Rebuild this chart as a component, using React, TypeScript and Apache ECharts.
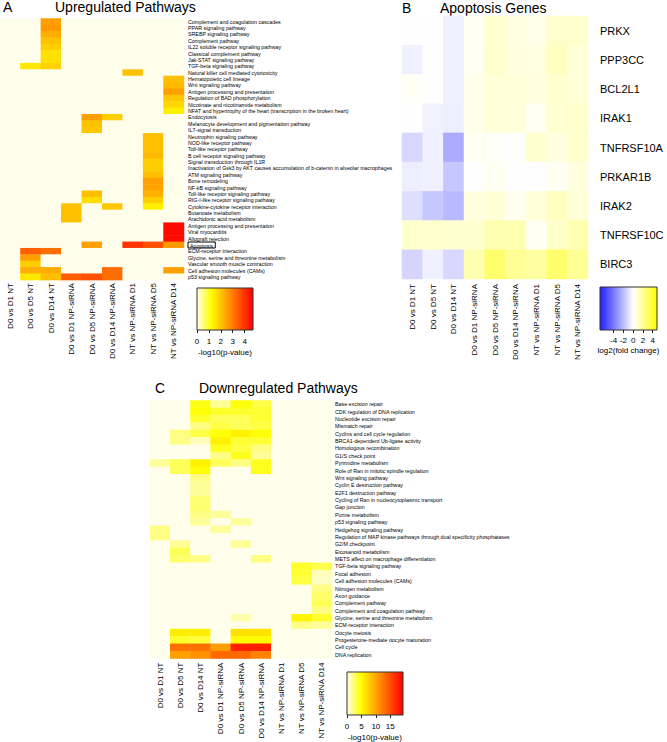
import React, { useEffect, useRef } from "react";
import * as echarts from "echarts";

const FONT = "Liberation Sans, Arial, Helvetica, sans-serif";

const comparisons = [
  "D0 vs D1 NT", "D0 vs D5 NT", "D0 vs D14 NT",
  "D0 vs D1 NP-siRNA", "D0 vs D5 NP-siRNA", "D0 vs D14 NP-siRNA",
  "NT vs NP-siRNA D1", "NT vs NP-siRNA D5", "NT vs NP-siRNA D14",
];

const upPathways = [
  "Complement and coagulation cascades",
  "PPAR signaling pathway",
  "SREBP signaling pathway",
  "Complement pathway",
  "IL22 soluble receptor signaling pathway",
  "Classical complement pathway",
  "Jak-STAT signaling pathway",
  "TGF-beta signaling pathway",
  "Natural killer cell mediated cytotoxicity",
  "Hematopoietic cell lineage",
  "Wnt signaling pathway",
  "Antigen processing and presentation",
  "Regulation of BAD phosphorylation",
  "Nicotinate and nicotinamide metabolism",
  "NFAT and hypertrophy of the heart (transcription in the broken heart)",
  "Endocytosis",
  "Melanocyte development and pigmentation pathway",
  "IL7-signal transduction",
  "Neutrophin signaling pathway",
  "NOD-like receptor pathway",
  "Toll-like receptor pathway",
  "B cell receptor signaling pathway",
  "Signal transduction through IL1R",
  "Inactivation of Gsk3 by AKT causes accumulation of b-catenin in alveolar macrophages",
  "ATM signaling pathway",
  "Bone remodeling",
  "NF-kB signaling pathway",
  "Toll-like receptor signaling pathway",
  "RIG-I-like receptor signaling pathway",
  "Cytokine-cytokine receptor interaction",
  "Butanoate metabolism",
  "Arachidonic acid metabolism",
  "Antigen processing and presentation",
  "Viral myocarditis",
  "Allograft rejection",
  "Apoptosis",
  "ECM-receptor interaction",
  "Glycine, serine and threonine metabolism",
  "Vascular smooth muscle contraction",
  "Cell adhesion molecules (CAMs)",
  "p53 signaling pathway",
];

// -log10(p-value), rows follow upPathways, columns follow comparisons
const upValues: number[][] = [
  [0, 0, 2.5, 0, 0, 0, 0, 0, 0],
  [0, 0, 2.6, 0, 0, 0, 0, 0, 0],
  [0, 0, 2.3, 0, 0, 0, 0, 0, 0],
  [0, 0, 2.05, 0, 0, 0, 0, 0, 0],
  [0, 0, 1.85, 0, 0, 0, 0, 0, 0],
  [0, 0, 1.6, 0, 0, 0, 0, 0, 0],
  [0, 0, 1.6, 0, 0, 0, 0, 0, 0],
  [0, 1.5, 1.8, 0, 0, 0, 0, 0, 0],
  [0, 0, 0, 0, 0, 0, 2.05, 0, 0],
  [0, 0, 0, 0, 0, 0, 0, 0, 2.05],
  [0, 0, 0, 0, 0, 0, 0, 0, 2.15],
  [0, 0, 0, 0, 0, 0, 0, 0, 2.5],
  [0, 0, 0, 0, 0, 0, 0, 0, 1.95],
  [0, 0, 0, 0, 0, 0, 0, 0, 1.75],
  [0, 0, 0, 0, 0, 0, 0, 0, 1.4],
  [0, 0, 0, 0, 2.5, 1.85, 0, 0, 0],
  [0, 0, 0, 0, 2.05, 0, 0, 0, 0],
  [0, 0, 0, 0, 1.95, 0, 0, 0, 0],
  [0, 0, 0, 0, 0, 0, 0, 2.05, 0],
  [0, 0, 0, 0, 0, 0, 0, 2.05, 0],
  [0, 0, 0, 0, 0, 0, 0, 2.05, 0],
  [0, 0, 0, 0, 0, 0, 0, 2.15, 0],
  [0, 0, 0, 0, 0, 0, 0, 1.85, 0],
  [0, 0, 0, 0, 0, 0, 0, 1.85, 0],
  [0, 0, 0, 0, 0, 0, 0, 2.05, 0],
  [0, 0, 0, 0, 0, 0, 0, 2.5, 0],
  [0, 0, 0, 0, 0, 0, 0, 2.45, 0],
  [0, 0, 0, 0, 2.07, 0, 0, 2.25, 0],
  [0, 0, 0, 0, 1.65, 0, 0, 1.85, 0],
  [0, 0, 0, 2.05, 0, 1.95, 0, 1.4, 0],
  [0, 0, 0, 2.05, 0, 0, 0, 0, 0],
  [0, 0, 0, 2.05, 0, 0, 0, 0, 0],
  [0, 0, 0, 0, 0, 0, 0, 0, 4.6],
  [0, 0, 0, 0, 0, 0, 0, 0, 4.6],
  [0, 0, 0, 0, 0, 0, 0, 0, 4.6],
  [0, 0, 0, 0, 2.5, 0, 4.0, 3.6, 2.6],
  [0, 3.4, 3.2, 0, 0, 0, 0, 0, 0],
  [0, 2.5, 0, 0, 0, 0, 0, 0, 0],
  [0, 1.85, 0, 0, 0, 0, 0, 0, 0],
  [0, 2.3, 2.3, 0, 0, 3.2, 0, 0, 2.5],
  [0, 1.5, 2.07, 3.4, 3.6, 3.2, 0, 0, 0],
];

const apoptosisGenes = [
  "PRKX", "PPP3CC", "BCL2L1", "IRAK1", "TNFRSF10A",
  "PRKAR1B", "IRAK2", "TNFRSF10C", "BIRC3",
];

// log2(fold change)
const apoptosisValues: number[][] = [
  [0, 0, -0.45, 0.25, 0.9, 0.55, 0.4, 1.0, 0.95],
  [-0.45, 0, -0.45, 0.25, 1.0, 0.6, 0.55, 1.2, 0.75],
  [0.2, 0, -0.45, 0.4, 0.75, 0.75, 0.6, 0.9, 0.75],
  [0, -0.4, -0.5, 0.4, 0.75, 0.75, 0.25, 0.9, 1.0],
  [-1.2, -0.45, -2.5, 0.25, 0.1, 0, 0.9, 0.6, 1.0],
  [-0.5, -0.45, -1.7, 0, 0.25, 0, 0, 0.25, 0.6],
  [-1.0, -1.7, -2.1, 0.6, 0.75, 0.3, 0.75, 1.2, 0.75],
  [1.0, 1.0, 0.9, 0.9, 1.5, 1.5, 0.25, 1.0, 1.5],
  [-1.3, -0.45, -1.2, 1.5, 2.8, 2.0, 1.8, 2.8, 2.0],
];

const downPathways = [
  "Base excision repair",
  "CDK regulation of DNA replication",
  "Nucleotide excision repair",
  "Mismatch repair",
  "Cyclins and cell cycle regulation",
  "BRCA1-dependent Ub-ligase activity",
  "Homologous recombination",
  "G1/S check point",
  "Pyrimidine metabolism",
  "Role of Ran in mitotic spindle regulation",
  "Wnt signaling pathway",
  "Cyclin E destruction pathway",
  "E2F1 destruction pathway",
  "Cycling of Ran in nucleocytoplasmic transport",
  "Gap junction",
  "Purine metabolism",
  "p53 signaling pathway",
  "Hedgehog signaling pathway",
  "Regulation of MAP kinase pathways through dual specificity phosphatases",
  "G2/M checkpoint",
  "Eicosanoid metabolism",
  "METS affect on macrophage differentiation",
  "TGF-beta signaling pathway",
  "Focal adhesion",
  "Cell adhesion molecules (CAMs)",
  "Nitrogen metabolism",
  "Axon guidance",
  "Complement pathway",
  "Complement and coagulation pathway",
  "Glycine, serine and threonine metabolism",
  "ECM-receptor interaction",
  "Oocyte meiosis",
  "Progesterone-mediate oocyte maturation",
  "Cell cycle",
  "DNA replication",
];

// -log10(p-value)
const downValues: number[][] = [
  [0, 0, 4.4, 1.7, 4.7, 3.4, 0, 0, 0],
  [0, 0, 4.7, 3.9, 3.9, 3.8, 0, 0, 0],
  [0, 0, 3.9, 3.0, 3.0, 3.8, 0, 0, 0],
  [0, 0, 2.1, 3.4, 3.0, 3.4, 0, 0, 0],
  [0, 2.1, 3.4, 4.7, 5.6, 4.7, 0, 0, 0],
  [0, 2.1, 1.0, 5.6, 3.8, 3.8, 0, 0, 0],
  [0, 0, 0, 4.2, 3.4, 2.1, 0, 0, 0],
  [0, 0, 0, 2.1, 4.2, 1.7, 0, 0, 0],
  [1.7, 3.0, 5.6, 3.0, 2.1, 4.2, 0, 0, 0],
  [0, 3.0, 4.7, 0, 0, 4.2, 0, 0, 0],
  [0, 0, 2.1, 0, 0, 0, 0, 0, 0],
  [0, 0, 1.7, 0, 0, 0, 0, 0, 0],
  [0, 0, 1.7, 0, 0, 0, 0, 0, 0],
  [0, 0, 2.5, 0, 0, 0, 0, 0, 0],
  [0, 0, 2.5, 0, 0, 0, 0, 0, 0],
  [0, 0, 2.1, 1.7, 0, 0, 0, 0, 0],
  [0, 0, 1.7, 0, 1.7, 0, 0, 0, 0],
  [2.1, 0, 0, 1.7, 0, 0, 0, 0, 0],
  [2.1, 0, 0, 0, 0, 0, 0, 0, 0],
  [0, 1.8, 0, 0, 1.7, 0, 0, 0, 0],
  [0, 3.0, 0, 0, 0, 0, 0, 0, 0],
  [0, 2.6, 2.1, 0, 0, 2.1, 0, 0, 0],
  [0, 0, 0, 0, 0, 0, 0, 3.9, 3.2],
  [0, 0, 0, 0, 0, 0, 0, 3.8, 1.0],
  [0, 0, 0, 0, 0, 0, 0, 3.4, 0.8],
  [0, 0, 0, 0, 0, 0, 0, 0, 2.1],
  [0, 0, 0, 0, 0, 0, 0, 0, 2.6],
  [0, 0, 0, 0, 0, 0, 0, 0, 3.0],
  [0, 0, 0, 0, 0, 0, 0, 0, 2.1],
  [0, 0, 0, 0, 1.3, 0, 0, 5.4, 3.9],
  [0, 0, 0, 0, 0, 0, 0, 2.1, 1.7],
  [0, 5.8, 5.8, 0, 6.5, 6.5, 0, 0, 0],
  [0, 4.0, 3.6, 0, 5.0, 5.0, 0, 0, 0],
  [0, 13.0, 13.0, 10.3, 17.6, 17.6, 0, 0, 0],
  [0, 10.3, 11.2, 13.4, 13.4, 12.0, 0, 0, 0],
];

const upTicks = [0, 1, 2, 3, 4];
const foldTicks = [-4, -2, 0, 2, 4];
const downTicks = [0, 5, 10, 15];

const UP_RANGE: [number, number] = [0, 4.7];
const FOLD_RANGE: [number, number] = [-6.8, 4.9];
const DOWN_RANGE: [number, number] = [0, 19.4];

const upAnchors: [number, string][] = [[0, "#fefeea"], [1.18, "#ffff00"], [4.7, "#ff0000"]];
const foldAnchors: [number, string][] = [[-6.8, "#1e1eff"], [0, "#ffffff"], [4.9, "#ffff00"]];
const downAnchors: [number, string][] = [[0, "#fefeea"], [4.85, "#ffff00"], [19.4, "#ff0000"]];

function parseHex(h: string) {
  const n = parseInt(h.slice(1), 16);
  return [(n >> 16) & 255, (n >> 8) & 255, n & 255];
}
function colorAt(anchors: [number, string][], v: number) {
  if (v <= anchors[0][0]) return anchors[0][1];
  for (let i = 1; i < anchors.length; i++) {
    const [v0, c0] = anchors[i - 1];
    const [v1, c1] = anchors[i];
    if (v <= v1) {
      const t = (v - v0) / (v1 - v0);
      const a = parseHex(c0);
      const b = parseHex(c1);
      return "rgb(" + a.map((x, k) => Math.round(x + (b[k] - x) * t)).join(",") + ")";
    }
  }
  return anchors[anchors.length - 1][1];
}
function ramp(range: [number, number], anchors: [number, string][], n = 120) {
  return Array.from({ length: n }, (_, i) => colorAt(anchors, range[0] + ((range[1] - range[0]) * i) / (n - 1)));
}
function gradient(range: [number, number], anchors: [number, string][]) {
  return new echarts.graphic.LinearGradient(
    0, 0, 1, 0,
    anchors.map(([v, c]) => ({ offset: (v - range[0]) / (range[1] - range[0]), color: c }))
  );
}
function toCells(m: number[][]) {
  const out: number[][] = [];
  m.forEach((row, y) => row.forEach((v, x) => out.push([x, y, v])));
  return out;
}

const hiddenAxisBits = {
  axisLine: { show: false },
  axisTick: { show: false },
  splitLine: { show: false },
};

function legendAxis(gridIndex: number, range: [number, number], ticks: number[], name: string, margin: number, gap: number) {
  return {
    type: "value",
    gridIndex,
    min: range[0],
    max: range[1],
    position: "bottom",
    axisLine: { show: false },
    splitLine: { show: false },
    axisTick: { show: true, length: 3, customValues: ticks, lineStyle: { color: "#222", width: 1 } },
    axisLabel: { customValues: ticks, fontSize: 8, margin, color: "#000", fontFamily: FONT },
    name,
    nameLocation: "middle",
    nameGap: gap,
    nameTextStyle: { fontSize: 8, color: "#000", fontFamily: FONT },
  };
}

export default function App() {
  const ref = useRef<HTMLDivElement>(null);
  useEffect(() => {
    if (!ref.current) return;
    const chart = echarts.init(ref.current, undefined, { renderer: "svg" });

    const grids = [
      { left: 0, top: 18.5, width: 184, height: 261.6 },
      { left: 402, top: 16, width: 186, height: 263 },
      { left: 150, top: 400.5, width: 182, height: 262.5 },
      { left: 197, top: 288, width: 56, height: 42 },
      { left: 600, top: 287, width: 57, height: 43 },
      { left: 347, top: 672, width: 56, height: 43 },
    ];

    const catX = (gridIndex: number, margin: number) => ({
      type: "category",
      gridIndex,
      data: comparisons,
      position: "bottom",
      ...hiddenAxisBits,
      axisLabel: { interval: 0, rotate: 90, fontSize: 8, margin, color: "#000", fontFamily: FONT },
    });

    const catY = (gridIndex: number, data: string[], fontSize: number, margin: number, extra: any = {}) => ({
      type: "category",
      gridIndex,
      data,
      inverse: true,
      position: "right",
      ...hiddenAxisBits,
      axisLabel: { interval: 0, fontSize, margin, color: "#000", fontFamily: FONT, ...extra },
    });

    const option: any = {
      animation: false,
      backgroundColor: "#ffffff",
      grid: grids.map((g) => ({ ...g, show: false, containLabel: false })),
      xAxis: [
        catX(0, 3),
        catX(1, 5),
        catX(2, 4),
        legendAxis(3, UP_RANGE, upTicks, "-log10(p-value)", 7, 18),
        legendAxis(4, FOLD_RANGE, foldTicks, "log2(fold change)", 6, 16),
        legendAxis(5, DOWN_RANGE, downTicks, "-log10(p-value)", 7, 18),
      ],
      yAxis: [
        catY(0, upPathways, 5.3, 4, {
          formatter: (v: string) => (v === "Apoptosis" ? "{box|Apoptosis}" : v),
          rich: {
            box: {
              fontSize: 5.3,
              fontFamily: FONT,
              color: "#000",
              borderColor: "#000",
              borderWidth: 1,
              padding: [1, 2, 0, 2],
            },
          },
        }),
        catY(1, apoptosisGenes, 11, 12),
        catY(2, downPathways, 5.3, 3),
        { type: "value", gridIndex: 3, show: false },
        { type: "value", gridIndex: 4, show: false },
        { type: "value", gridIndex: 5, show: false },
      ],
      visualMap: [
        { type: "continuous", show: false, seriesIndex: 0, min: UP_RANGE[0], max: UP_RANGE[1], inRange: { color: ramp(UP_RANGE, upAnchors) } },
        { type: "continuous", show: false, seriesIndex: 1, min: FOLD_RANGE[0], max: FOLD_RANGE[1], inRange: { color: ramp(FOLD_RANGE, foldAnchors) } },
        { type: "continuous", show: false, seriesIndex: 2, min: DOWN_RANGE[0], max: DOWN_RANGE[1], inRange: { color: ramp(DOWN_RANGE, downAnchors) } },
      ],
      series: [
        { type: "heatmap", xAxisIndex: 0, yAxisIndex: 0, data: toCells(upValues), itemStyle: { borderWidth: 0 } },
        { type: "heatmap", xAxisIndex: 1, yAxisIndex: 1, data: toCells(apoptosisValues), itemStyle: { borderWidth: 0 } },
        { type: "heatmap", xAxisIndex: 2, yAxisIndex: 2, data: toCells(downValues), itemStyle: { borderWidth: 0 } },
      ],
      graphic: [
        { type: "text", x: 3, y: 7, style: { text: "A", fontSize: 14, fontFamily: FONT, fill: "#000", verticalAlign: "middle" } },
        { type: "text", x: 55, y: 7, style: { text: "Upregulated Pathways", fontSize: 14, fontFamily: FONT, fill: "#000", verticalAlign: "middle" } },
        { type: "text", x: 402, y: 7.5, style: { text: "B", fontSize: 14, fontFamily: FONT, fill: "#000", verticalAlign: "middle" } },
        { type: "text", x: 440, y: 7.5, style: { text: "Apoptosis Genes", fontSize: 14, fontFamily: FONT, fill: "#000", verticalAlign: "middle" } },
        { type: "text", x: 155, y: 388, style: { text: "C", fontSize: 14, fontFamily: FONT, fill: "#000", verticalAlign: "middle" } },
        { type: "text", x: 199, y: 388, style: { text: "Downregulated Pathways", fontSize: 14, fontFamily: FONT, fill: "#000", verticalAlign: "middle" } },
        {
          type: "rect",
          shape: { x: grids[3].left, y: grids[3].top, width: grids[3].width, height: grids[3].height },
          style: { fill: gradient(UP_RANGE, upAnchors), stroke: "#333", lineWidth: 1 },
        },
        {
          type: "rect",
          shape: { x: grids[4].left, y: grids[4].top, width: grids[4].width, height: grids[4].height },
          style: { fill: gradient(FOLD_RANGE, foldAnchors), stroke: "#333", lineWidth: 1 },
        },
        {
          type: "rect",
          shape: { x: grids[5].left, y: grids[5].top, width: grids[5].width, height: grids[5].height },
          style: { fill: gradient(DOWN_RANGE, downAnchors), stroke: "#333", lineWidth: 1 },
        },
      ],
    };

    chart.setOption(option);
    return () => chart.dispose();
  }, []);

  return (
    <div
      ref={ref}
      style={{ position: "absolute", left: 0, top: 0, width: 667, height: 742, background: "#fff" }}
    />
  );
}
